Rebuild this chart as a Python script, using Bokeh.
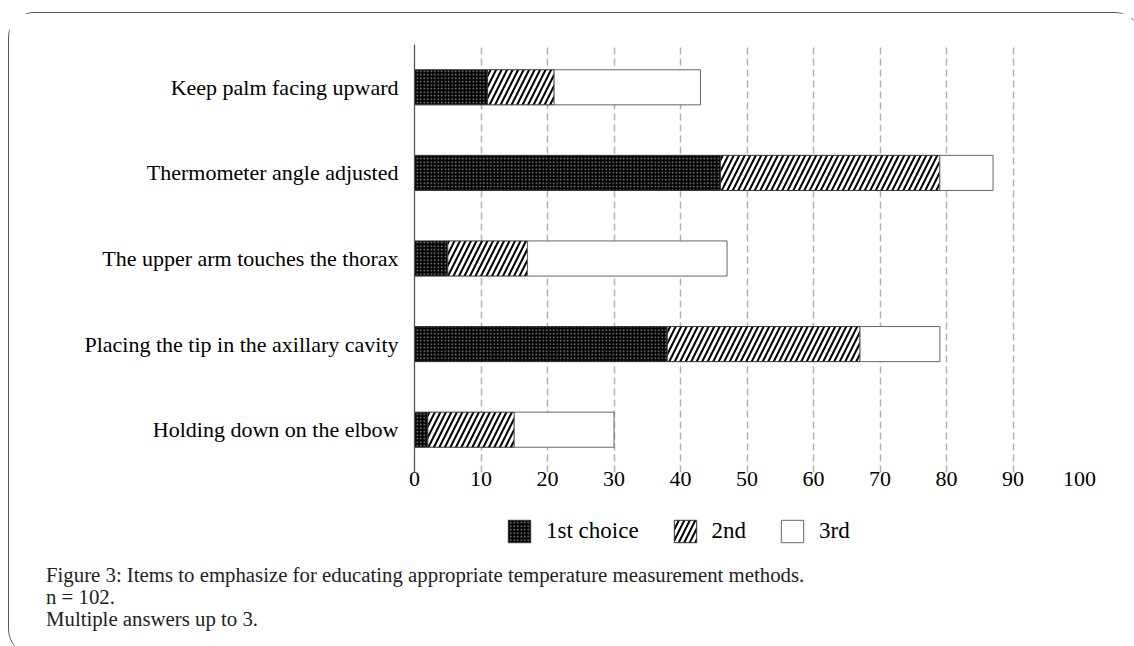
from bokeh.plotting import figure
from bokeh.layouts import column
from bokeh.models import ColumnDataSource, FactorRange, FixedTicker, Legend, LegendItem, Div
from bokeh.embed import file_html
from bokeh.resources import INLINE

categories = ["Keep palm facing upward", "Thermometer angle adjusted",
              "The upper arm touches the thorax", "Placing the tip in the axillary cavity",
              "Holding down on the elbow"]
first_choice = [11, 46, 5, 38, 2]
second_choice = [10, 33, 12, 29, 13]
third_choice = [22, 8, 30, 12, 15]
series_names = ["1st choice", "2nd", "3rd"]
x_ticks = [0, 10, 20, 30, 40, 50, 60, 70, 80, 90, 100]
caption_lines = ["Figure 3: Items to emphasize for educating appropriate temperature measurement methods.",
                 "n = 102.",
                 "Multiple answers up to 3."]

source = ColumnDataSource(dict(cat=categories, s1=first_choice, s2=second_choice, s3=third_choice))

SERIF = "Liberation Serif"
fills = ["black", "white", "white"]
lines = ["#333333", "#333333", "#666666"]
hatches = ["dot", "right_diagonal_line", None]
hatch_colors = ["#8a8a8a", "black", "black"]
hatch_scales = [3.5, 11, 8]
hatch_weights = [1, 2, 1]

# ---- chart ----
p = figure(width=1122, height=490, output_backend="svg", toolbar_location=None,
           y_range=FactorRange(factors=list(reversed(categories)), range_padding=0),
           x_range=(0, 100),
           min_border_left=405, min_border_right=52, min_border_top=31, min_border_bottom=31)
p.outline_line_color = None
p.background_fill_color = "white"
p.border_fill_color = "white"

rs = p.hbar_stack(["s1", "s2", "s3"], y="cat", height=0.41, source=source,
                  fill_color=fills, line_color=lines, line_width=1,
                  hatch_pattern=hatches, hatch_color=hatch_colors,
                  hatch_scale=hatch_scales, hatch_weight=hatch_weights)

p.xaxis.ticker = FixedTicker(ticks=x_ticks)
p.xaxis.axis_line_color = None
p.xaxis.major_tick_line_color = None
p.xaxis.minor_tick_line_color = None
p.xaxis.major_tick_out = 0
p.xaxis.major_label_standoff = -1
p.xaxis.major_label_text_font = SERIF
p.xaxis.major_label_text_font_size = "22px"
p.xaxis.major_label_text_color = "black"

p.yaxis.axis_line_color = "#555555"
p.yaxis.axis_line_width = 1.3
p.yaxis.major_tick_line_color = None
p.yaxis.minor_tick_line_color = None
p.yaxis.major_tick_out = 0
p.yaxis.major_label_standoff = 16
p.yaxis.major_label_text_font = SERIF
p.yaxis.major_label_text_font_size = "22px"
p.yaxis.major_label_text_color = "black"

p.ygrid.grid_line_color = None
p.xgrid.ticker = FixedTicker(ticks=x_ticks[1:])
p.xgrid.grid_line_color = "#b0b0b0"
p.xgrid.grid_line_width = 1.5
p.xgrid.grid_line_dash = "7 4"

# ---- legend strip ----
p2 = figure(width=1122, height=50, output_backend="svg", toolbar_location=None,
            x_range=(0, 1), y_range=(0, 1), x_axis_type=None, y_axis_type=None,
            min_border_left=405, min_border_right=52, min_border_top=0, min_border_bottom=0)
p2.outline_line_color = None
p2.grid.grid_line_color = None
p2.background_fill_color = "white"
p2.border_fill_color = "white"

nan = float("nan")
keys = []
for i in range(3):
    keys.append(p2.hbar(y=[nan], right=[nan], height=0.4, fill_color=fills[i], line_color=lines[i],
                        line_width=1, hatch_pattern=hatches[i], hatch_color=hatch_colors[i],
                        hatch_scale=hatch_scales[i], hatch_weight=hatch_weights[i]))

legend = Legend(items=[LegendItem(label=series_names[i], renderers=[keys[i]]) for i in range(3)],
                orientation="horizontal", location=(91, 8),
                glyph_width=28, glyph_height=28, label_standoff=13, spacing=32,
                padding=0, margin=0, border_line_color=None, background_fill_alpha=0,
                label_text_font=SERIF, label_text_font_size="23px", label_text_color="black")
p2.add_layout(legend, "center")

# ---- caption ----
caption = Div(text="<br>".join(caption_lines), width=1122, height=92,
              styles={"font-family": "'Liberation Serif', serif", "font-size": "20.8px",
                      "line-height": "22px", "color": "#222222",
                      "padding-left": "32px", "padding-top": "6px", "box-sizing": "border-box"})

layout = column(p, p2, caption, spacing=0)
layout.styles = {"margin-top": "12px", "margin-left": "8px",
                 "border-left": "1.5px solid #555", "border-top": "1.5px solid #555",
                 "border-top-left-radius": "26px", "border-bottom-left-radius": "26px",
                 "border-top-right-radius": "26px"}

open("out.html", "w").write(file_html(layout, INLINE))
